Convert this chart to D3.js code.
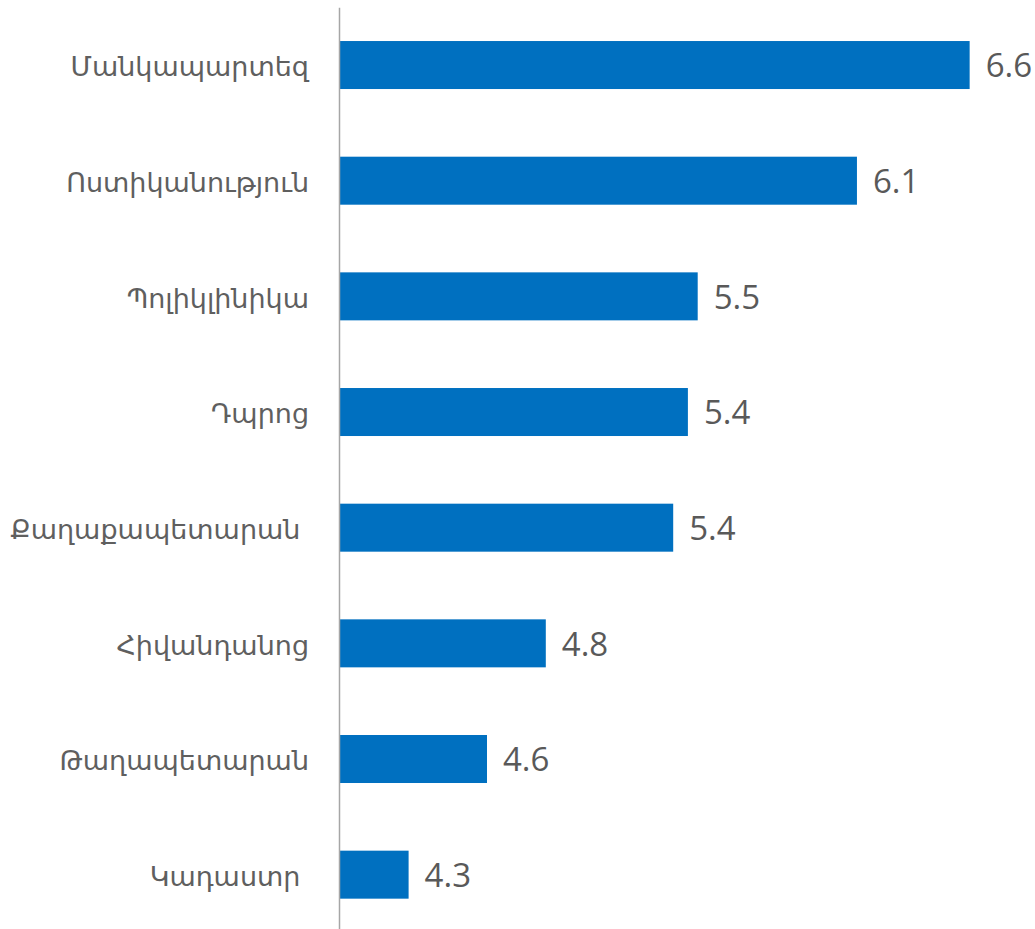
<!DOCTYPE html>
<html>
<head>
<meta charset="utf-8">
<script src="https://cdn.jsdelivr.net/npm/d3@7"></script>
<style>
  html, body { margin: 0; padding: 0; background: #ffffff; }
  svg { display: block; }
</style>
</head>
<body>
<svg id="chart" width="1035" height="929"></svg>
<script>
const categories = [
  "Մանկապարտեզ",
  "Ոստիկանություն",
  "Պոլիկլինիկա",
  "Դպրոց",
  "Քաղաքապետարան ",
  "Հիվանդանոց",
  "Թաղապետարան",
  "Կադաստր "
];
const values = [6.57, 6.11, 5.46, 5.42, 5.36, 4.84, 4.60, 4.28];
const axisMin = 4;
const axisMax = 7;

const svg = d3.select("#chart");
const axisX = 339;

const x = d3.scaleLinear().domain([axisMin, axisMax]).range([340, 1075]);
const y = d3.scaleBand().domain(categories).range([7.2, 932.5])
  .paddingInner(0.585).paddingOuter(0.2925);

const fmt = d3.format(".1f");

svg.append("g").selectAll("rect").data(values).join("rect")
  .attr("x", x(axisMin))
  .attr("y", (d, i) => y(categories[i]))
  .attr("width", d => x(d) - x(axisMin))
  .attr("height", y.bandwidth())
  .attr("fill", "#0070C0");

svg.append("g").selectAll("text").data(values).join("text")
  .attr("x", d => x(d) + 16)
  .attr("y", (d, i) => y(categories[i]) + y.bandwidth() / 2)
  .attr("dy", "0.37em")
  .attr("font-family", "'Open Sans', sans-serif")
  .attr("font-size", 33)
  .attr("fill", "#595959")
  .text(d => fmt(d));

const ax = svg.append("g")
  .attr("transform", `translate(${axisX},0)`)
  .call(d3.axisLeft(y).tickSize(0).tickSizeOuter(0).tickPadding(30));
ax.select(".domain").attr("stroke", "#A6A6A6").attr("stroke-width", 1.5);
ax.selectAll(".tick text")
  .attr("font-family", "'DejaVu Sans', sans-serif")
  .attr("font-size", 27)
  .attr("fill", "#5f5f5f")
  .attr("dy", "0.42em")
  .style("white-space", "pre");
</script>
</body>
</html>
